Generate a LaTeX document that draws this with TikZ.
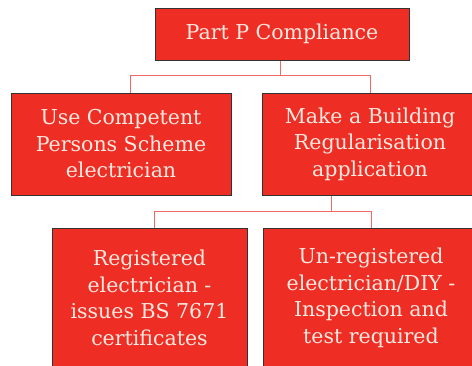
\documentclass[tikz,border=0pt]{standalone}
\usepackage{fontspec}
\setmainfont{DejaVu Serif}
\definecolor{boxred}{HTML}{EE2E24}
\definecolor{linkred}{HTML}{EF6A63}
\definecolor{boxtext}{HTML}{FCEAE2}
\definecolor{boxedge}{HTML}{333333}
\tikzset{
    box/.style={draw=boxedge, line width=1pt, fill=boxred, text=boxtext,
        align=center, inner sep=0pt,
        font=\fontsize{20.5}{26.5}\selectfont},
    link/.style={draw=linkred, line width=1pt}
}
\begin{document}
\begin{tikzpicture}[x=1pt, y=-1pt]
    \clip (0,0) rectangle (472,365);
    \useasboundingbox (0,0) rectangle (472,365);

    \node [box, minimum width=254pt, minimum height=52pt]  (comp) at (282,34)  {Part P Compliance};
    \node [box, minimum width=220pt, minimum height=102pt] (cps)  at (121,144) {Use Competent\\Persons Scheme\\electrician};
    \node [box, minimum width=216pt, minimum height=102pt] (reg)  at (370,144) {Make a Building\\Regularisation\\application};
    \node [box, minimum width=195pt, minimum height=140pt] (regd) at (149.5,298) {Registered\\electrician -\\issues BS 7671\\certificates};
    \node [box, minimum width=216pt, minimum height=140pt] (diy)  at (371,298) {Un-registered\\electrician/DIY -\\Inspection and\\test required};

    \draw [link] ([xshift=-2pt]comp.south) -- ++(0,-15pt) coordinate (j1);
    \draw [link] ([xshift=9pt]cps.north) |- (j1) -| (reg.north);

    \draw [link] ([xshift=-39pt]reg.south) -- ++(0,-16pt) coordinate (j2);
    \draw [link] ([xshift=4.5pt]regd.north) |- (j2) -| (diy.north);
\end{tikzpicture}
\end{document}
